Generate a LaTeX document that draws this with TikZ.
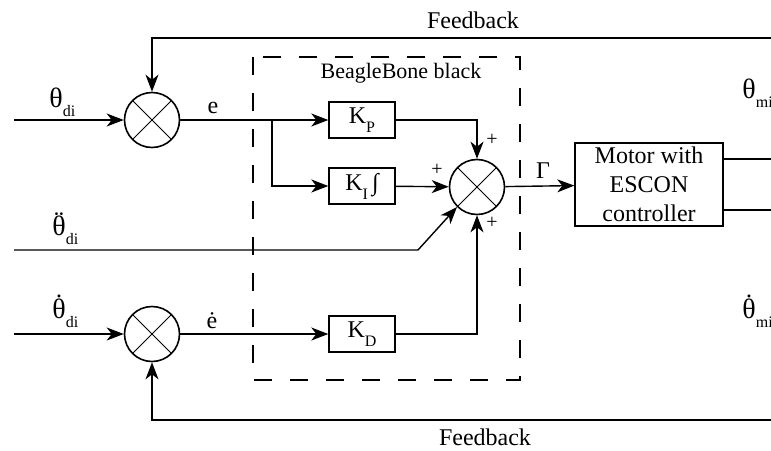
\documentclass[tikz,border=0pt]{standalone}
\usepackage{fontspec}
\setmainfont{Liberation Serif}
\usetikzlibrary{arrows.meta}
\newcommand{\sub}[1]{\raisebox{-4.5pt}{\fontsize{8}{9}\selectfont #1}}
\newcommand{\dotsover}[2]{\ooalign{#2\cr\hfil\raisebox{0.17em}{#1}\hfil\cr}}
\tikzset{
  block/.style={draw, line width=0.7pt, minimum width=33pt, minimum height=18pt, inner sep=0pt},
  summer/.style={draw, circle, line width=0.8pt, minimum size=27.5pt, inner sep=0pt,
    path picture={\draw[line width=0.5pt] (path picture bounding box.north west) -- (path picture bounding box.south east)
      (path picture bounding box.north east) -- (path picture bounding box.south west);}},
  sig/.style={line width=0.7pt, -{Stealth[length=8.5pt,width=6.5pt,inset=2.5pt]}},
  wire/.style={line width=0.7pt},
  lbl/.style={anchor=base, inner sep=0pt},
  sym/.style={anchor=base west, inner sep=0pt, font=\fontsize{14}{16}\selectfont},
  plus/.style={inner sep=0pt, font=\fontsize{10}{11}\selectfont},
}
\begin{document}
\begin{tikzpicture}[x=0.5pt, y=-0.5pt, font=\fontsize{12}{14.5}\selectfont]
  \useasboundingbox (0,0) rectangle (771,450);
  \clip (0,0) rectangle (771,450);
  % controller board
  \draw [line width=0.7pt, dash pattern=on 9pt off 9pt] (253,57) rectangle (520,380);
  \node [lbl, font=\fontsize{11}{13}\selectfont] (board) at (401,78) {BeagleBone black};
  % summing junctions and blocks
  \node [summer] (sumP) at (152,120) {};
  \node [summer] (sumD) at (152,334) {};
  \node [summer] (sumC) at (477,187) {};
  \node [block] (kp) at (362,120) {K\sub{P}};
  \node [block] (ki) at (362,186) {K\sub{I}\,∫};
  \node [block] (kd) at (362,334) {K\sub{D}};
  \node [block, minimum width=74pt, minimum height=41.5pt, align=center] (motor) at (649,184.5) {Motor with\\ESCON\\controller};
  % free ends
  \coordinate (inP) at (14,120);
  \coordinate (inA) at (14,250);
  \coordinate (inD) at (14,334);
  \coordinate (branch) at (272,120);
  \coordinate (bend) at (418,250);
  \coordinate (fbT) at (773,38);
  \coordinate (fbB) at (773,420);
  \coordinate (outP) at (773,159);
  \coordinate (outD) at (773,210);
  % signals
  \draw [sig] (inP) -- (sumP);
  \draw [sig] (sumP) -- (kp);
  \draw [sig] (branch) |- (ki);
  \draw [sig] (kp) -| (sumC);
  \draw [sig] (ki) -- (sumC);
  \draw [sig] (inA) -- (bend) -- (sumC.225);
  \draw [sig] (inD) -- (sumD);
  \draw [sig] (sumD) -- (kd);
  \draw [sig] (kd) -| (sumC);
  \draw [sig] (sumC) -- (motor);
  \draw [wire] (motor.east |- outP) -- (outP);
  \draw [wire] (motor.east |- outD) -- (outD);
  \draw [sig] (fbT) -| (sumP);
  \draw [sig] (fbB) -| (sumD);
  % labels
  \node [sym] (thP) at (49,107) {θ\sub{di}};
  \node [sym] (thA) at (52,235) {\dotsover{¨}{θ}\sub{di}};
  \node [sym] (thD) at (52,318) {\dotsover{˙}{θ}\sub{di}};
  \node [sym] (thM) at (742,98) {θ\sub{mi}};
  \node [sym] (thMd) at (742,318) {\dotsover{˙}{θ}\sub{mi}};
  \node [lbl] (err) at (213,113) {e};
  \node [lbl] (derr) at (212,328) {ė};
  \node [lbl] (torque) at (543,178) {Γ};
  \node [lbl] (fbTop) at (473,28) {Feedback};
  \node [lbl] (fbBot) at (485,445) {Feedback};
  \node [plus] (pP) at (492,140) {+};
  \node [plus] (pI) at (437,170) {+};
  \node [plus] (pD) at (492,223) {+};
\end{tikzpicture}
\end{document}
